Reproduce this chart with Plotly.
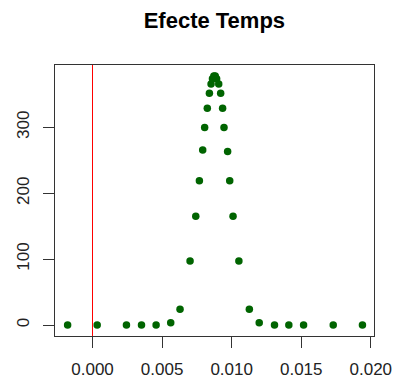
import plotly.graph_objects as go

# Data
x_vals = [-0.00179, 0.000335, 0.00244, 0.00352, 0.00457, 0.00562, 0.00629, 0.00701,
          0.00742, 0.00768, 0.00792, 0.00806, 0.00825, 0.00840, 0.00852, 0.00862,
          0.00872, 0.00882, 0.00892, 0.00907, 0.00921, 0.00935, 0.00945, 0.00971,
          0.00986, 0.01010, 0.01052, 0.01127, 0.01198, 0.01308, 0.01411, 0.01517,
          0.01730, 0.01940]
y_vals = [0, 0, 0, 0, 0, 3.5, 23.8, 97.3,
          165, 219, 265.6, 300, 329, 352, 366, 374,
          378, 378, 374, 366, 352, 329, 300, 263.5,
          219, 165, 97.3, 23.8, 3.5, 0, 0, 0,
          0, 0]
x_ticks = [0.000, 0.005, 0.010, 0.015, 0.020]
x_tick_labels = ["0.000", "0.005", "0.010", "0.015", "0.020"]
y_ticks = [0, 100, 200, 300]
y_tick_labels = ["0", "100", "200", "300"]
vline_x = 0.0
title_text = "Efecte Temps"

fig = go.Figure()
fig.add_trace(go.Scatter(
    x=x_vals, y=y_vals, mode="markers",
    marker=dict(color="#006400", size=7.5, line=dict(width=0)),
    showlegend=False, hoverinfo="skip"))

fig.add_shape(type="line", x0=vline_x, x1=vline_x, xref="x", y0=0, y1=1, yref="paper",
              line=dict(color="#ff0000", width=1), layer="above")

axis_font = dict(family="Liberation Sans, Arial, sans-serif", size=17, color="#222")

fig.update_layout(
    width=393, height=382,
    margin=dict(l=55, r=19, t=65, b=46, pad=0, autoexpand=False),
    paper_bgcolor="white", plot_bgcolor="white",
    title=dict(text="<b>" + title_text + "</b>", x=0.5455, xanchor="center",
               y=0.948, yanchor="middle",
               font=dict(family="Liberation Sans, Arial, sans-serif", size=22, color="black")),
    xaxis=dict(range=[-0.002696, 0.02023], tickvals=x_ticks, ticktext=x_tick_labels,
               showgrid=False, zeroline=False, showline=True, mirror=True,
               linecolor="#333", linewidth=1.2, ticks="outside", ticklen=11,
               tickcolor="#333", tickwidth=1.2, tickfont=axis_font,
               ticklabelstandoff=6, automargin=False),
    yaxis=dict(range=[-16.7, 394.7], tickvals=y_ticks, ticktext=y_tick_labels,
               showgrid=False, zeroline=False, showline=True, mirror=True,
               linecolor="#333", linewidth=1.2, ticks="outside", ticklen=11,
               tickcolor="#333", tickwidth=1.2, tickangle=-90, tickfont=axis_font,
               ticklabelstandoff=7, automargin=False),
)

fig.write_html("out.html")
